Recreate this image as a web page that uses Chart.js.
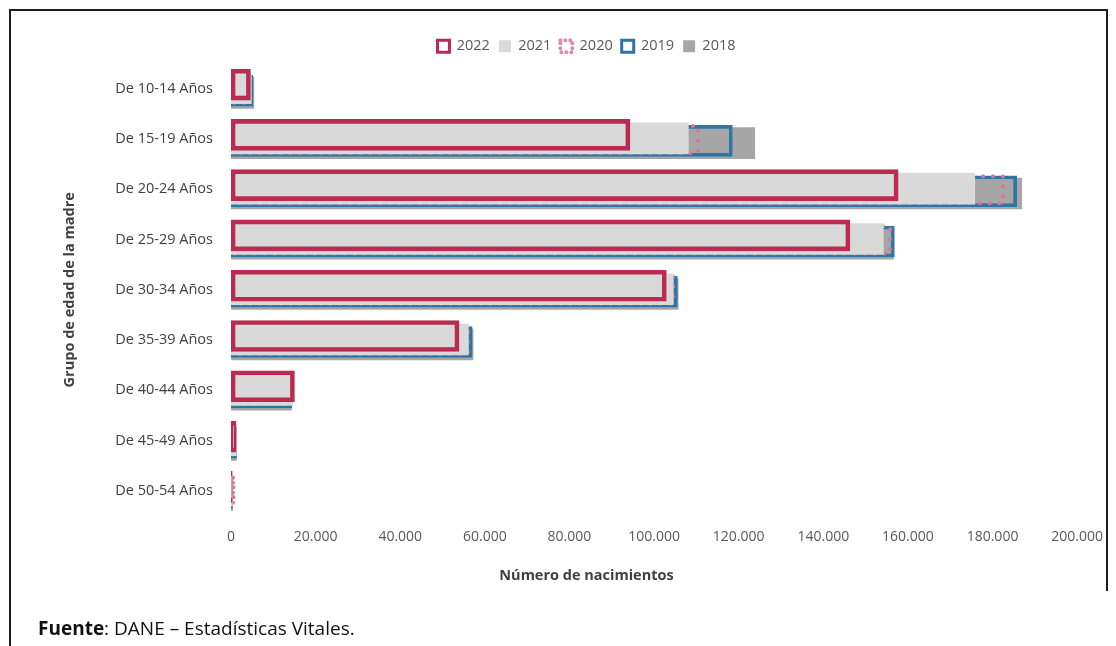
<!DOCTYPE html>
<html>
<head>
<meta charset="utf-8">
<script src="https://cdn.jsdelivr.net/npm/chart.js@4.4.1/dist/chart.umd.min.js"></script>
<style>
html,body{margin:0;padding:0;background:#fff;width:1116px;height:646px;overflow:hidden;font-family:'Open Sans',sans-serif;}
#wrap{position:absolute;left:0;top:0;width:1116px;height:646px;}
#c{position:absolute;left:0;top:0;}
.ln{position:absolute;background:#1e1e1e;}
#fuente{position:absolute;left:38px;top:615px;font-size:19px;color:#111;white-space:nowrap;}
</style>
</head>
<body>
<div id="wrap">
  <canvas id="c" width="1116" height="646"></canvas>
  <div class="ln" style="left:9px;top:9px;width:1099px;height:2px;"></div>
  <div class="ln" style="left:9px;top:9px;width:2px;height:637px;"></div>
  <div class="ln" style="left:1106px;top:9px;width:2px;height:582px;"></div>
  <div id="fuente"><b>Fuente</b>: DANE – Estadísticas Vitales.</div>
</div>
<script>
const categories = ['De 10-14 Años','De 15-19 Años','De 20-24 Años','De 25-29 Años','De 30-34 Años','De 35-39 Años','De 40-44 Años','De 45-49 Años','De 50-54 Años'];
const years = ['2022','2021','2020','2019','2018'];
const v2022 = [4600, 94300, 157700, 146300, 102900, 53900, 15000, 1200, 300];
const v2021 = [4800, 108100, 175800, 154200, 104500, 56100, 14600, 1250, 320];
const v2020 = [5000, 110900, 182900, 156300, 105000, 56500, 14500, 1300, 330];
const v2019 = [5200, 118500, 185700, 156800, 105500, 57000, 14400, 1300, 340];
const v2018 = [5400, 123800, 186900, 156600, 105700, 57200, 14300, 1300, 350];
const xTicks = [0, 20000, 40000, 60000, 80000, 100000, 120000, 140000, 160000, 180000, 200000];

const seriesValues = [v2022, v2021, v2020, v2019, v2018];

// styles (shadow-like vertical shift in category units, colours, borders)
const styles = [
  {shift:-0.08, bg:'rgba(0,0,0,0)', border:'#bb2a50', bw:4, lFill:'#ffffff', lStroke:'#bb2a50', lW:3},
  {shift:-0.01, bg:'#d9d9d9', border:'#d9d9d9', bw:0, lFill:'#d9d9d9', lStroke:'#d9d9d9', lW:0},
  {shift:0.01, bg:'rgba(0,0,0,0)', border:'#d9d9d9', bw:0, dotted:{color:'#d9759b', width:4, gap:10}, lFill:'rgba(0,0,0,0)', lStroke:'#e08aab', lW:4, lDash:[0,5]},
  {shift:0.04, bg:'rgba(0,0,0,0)', border:'#2b76a6', bw:3, lFill:'#ffffff', lStroke:'#2b76a6', lW:3},
  {shift:0.085, bg:'#a6a6a6', border:'#a6a6a6', bw:0, lFill:'#a6a6a6', lStroke:'#a6a6a6', lW:0}
];

const datasets = years.map((y, k) => ({
  label: y,
  data: seriesValues[k].map((v, i) => ({x: v, y: i + styles[k].shift})),
  backgroundColor: styles[k].bg,
  borderColor: styles[k].border,
  borderWidth: styles[k].bw,
  borderSkipped: false,
  barThickness: 31,
  grouped: false,
  dotted: styles[k].dotted || null
}));

const dottedBorder = {
  id: 'dottedBorder',
  afterDatasetDraw(chart, args) {
    const ds = chart.data.datasets[args.index];
    if (!ds.dotted) return;
    const ctx = chart.ctx;
    const d = ds.dotted;
    ctx.save();
    ctx.strokeStyle = d.color;
    ctx.lineWidth = d.width;
    ctx.setLineDash([0, d.gap]);
    ctx.lineCap = 'round';
    args.meta.data.forEach(el => {
      const p = el.getProps(['x','y','base','height'], true);
      const w = d.width / 2;
      const l = Math.min(p.base, p.x) + w, r = Math.max(p.base, p.x) - w;
      const t = p.y - p.height / 2 + w, b = p.y + p.height / 2 - w;
      ctx.beginPath();
      ctx.rect(l, t, Math.max(r - l, 0.5), b - t);
      ctx.stroke();
    });
    ctx.restore();
  }
};

Chart.defaults.font.family = "'Open Sans', sans-serif";
const fmt = v => String(v).replace(/\B(?=(\d{3})+(?!\d))/g, '.');

new Chart(document.getElementById('c'), {
  type: 'bar',
  data: { datasets },
  plugins: [dottedBorder],
  options: {
    indexAxis: 'y',
    responsive: false,
    animation: false,
    layout: { padding: { top: 30, left: 86, right: 29, bottom: 61.6 } },
    plugins: {
      tooltip: { enabled: false },
      title: {
        display: true, position: 'bottom', align: 'center',
        text: 'Número de nacimientos', color: '#404040',
        font: { size: 14.5, weight: 'bold' },
        padding: { top: 11, bottom: 0 }
      },
      legend: {
        position: 'top',
        labels: {
          boxWidth: 12, boxHeight: 12, padding: 9,
          color: '#595959', font: { size: 14.5 },
          generateLabels(chart) {
            return chart.data.datasets.map((ds, i) => ({
              text: ds.label,
              fillStyle: styles[i].lFill,
              strokeStyle: styles[i].lStroke,
              lineWidth: styles[i].lW,
              lineDash: styles[i].lDash || [],
              lineCap: 'round',
              fontColor: '#595959',
              hidden: false,
              datasetIndex: i
            }));
          }
        }
      }
    },
    scales: {
      x: {
        type: 'linear', min: 0, max: 200000,
        afterBuildTicks: s => { s.ticks = xTicks.map(v => ({value: v})); },
        ticks: { callback: v => fmt(v), color: '#595959', font: { size: 14 }, padding: 13, maxRotation: 0 },
        grid: { display: false, drawTicks: false },
        border: { display: false },
        afterFit: s => { s.height = 40; }
      },
      y: {
        type: 'linear', reverse: true, min: -0.5, max: 8.5, offset: false,
        afterBuildTicks: s => { s.ticks = categories.map((c, i) => ({value: i})); },
        ticks: { callback: v => categories[v] !== undefined ? categories[v] : '', color: '#404040', font: { size: 14.5 }, padding: 18, autoSkip: false },
        grid: { display: false, drawTicks: false, offset: false },
        border: { display: false },
        title: { display: true, text: 'Grupo de edad de la madre', color: '#404040', font: { size: 14.5, weight: 'bold' }, padding: { top: -25, bottom: 4 } },
        afterFit: s => { s.width = 145; }
      }
    }
  }
});
</script>
</body>
</html>
